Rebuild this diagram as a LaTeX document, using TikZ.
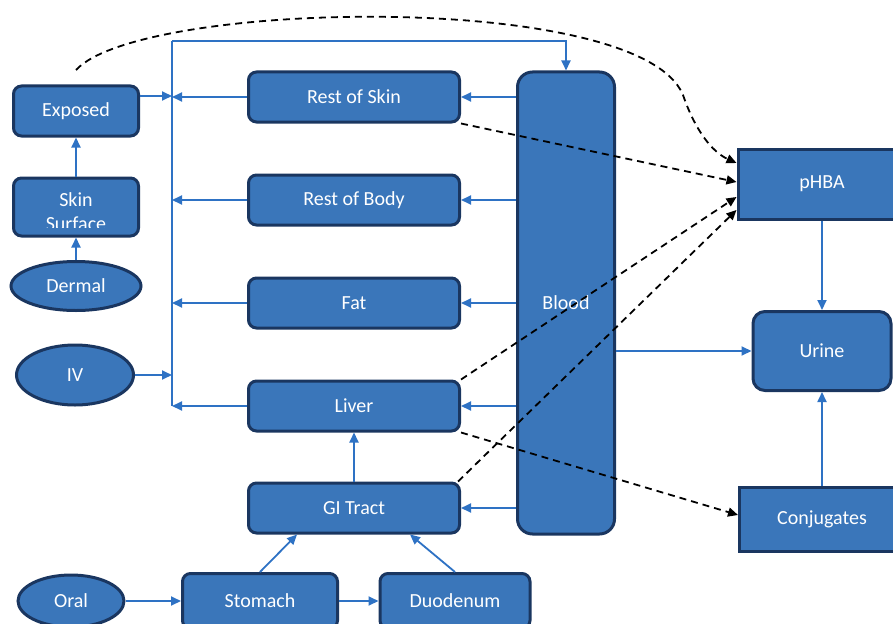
\documentclass[tikz,border=0pt]{standalone}
\usepackage{fontspec}
\setmainfont{Carlito}
\usetikzlibrary{shapes.geometric,arrows.meta,calc}

\definecolor{boxfill}{RGB}{58,118,186}
\definecolor{boxedge}{RGB}{26,54,96}
\definecolor{flow}{RGB}{46,114,196}

\begin{document}
\begin{tikzpicture}[x=1pt,y=-1pt,
    tile/.style={draw=boxedge, line width=3pt, fill=boxfill, text=white,
      font=\fontsize{20}{24}\selectfont},
    organ/.style={tile, rounded corners=8pt, minimum width=211, minimum height=50},
    route/.style={tile, ellipse, inner sep=0pt},
    pool/.style={tile, rounded corners=0pt},
    flowarr/.style={flow, line width=1.8pt, -{Triangle[length=10pt,width=9pt]}},
    flowline/.style={flow, line width=1.8pt},
    dasharr/.style={black, line width=1.8pt, dash pattern=on 7pt off 5pt,
      -{Triangle[length=10pt,width=9pt]}}]
    \useasboundingbox (0,0) rectangle (893,623);
    \clip (0,0) rectangle (893,623);

    % Dosing routes
    \node[route, minimum width=130, minimum height=49] (dermal) at (76,286) {Dermal};
    \node[route, minimum width=117, minimum height=60] (iv) at (75,375) {IV};
    \node[route, minimum width=106, minimum height=52] (oral) at (71,601) {Oral};
    \node[organ, minimum width=125, minimum height=50] (exposed) at (76,111) {Exposed};
    \node[organ, minimum width=125, minimum height=58] (skin) at (76,207) {};
    \begin{scope}
        \clip (14,180) rectangle (138,227); % Text tallat
        \node[text=white, align=center, font=\fontsize{20}{24}\selectfont] (skintext) at (76,212) {Skin\\Surface};
    \end{scope}

    % Compartiments
    \node[organ] (rskin) at (354,97) {Rest of Skin};
    \node[organ] (rbody) at (354,200) {Rest of Body};
    \node[organ] (fat) at (354,303) {Fat};
    \node[organ] (liver) at (354,406) {Liver};
    \node[organ] (gi) at (354,508) {GI Tract};
    \node[organ, minimum width=155, minimum height=55] (stomach) at (260,601) {Stomach};
    \node[organ, minimum width=150, minimum height=55] (duod) at (455,601) {Duodenum};
    \node[organ, rounded corners=15pt, minimum width=97, minimum height=462] (blood) at (566,303) {Blood};

    % Excreta
    \node[pool, minimum width=168, minimum height=70] (phba) at (822,184) {pHBA};
    \node[organ, rounded corners=12pt, minimum width=138, minimum height=79] (urine) at (822,351) {Urine};
    \node[pool, minimum width=165, minimum height=64] (conj) at (822,519) {Conjugates};

    % Retorn venos
    \coordinate (bustop) at (172,41);
    \coordinate (busbot) at (172,406);
    \draw[flowline] (bustop) -- (busbot);
    \draw[flowarr] (bustop) -| (blood.north);
    \foreach \n in {rskin,rbody,fat,liver} {
        \draw[flowarr] (\n.west) -- (\n.west -| bustop);
        \draw[flowarr] (blood.west |- \n.east) -- (\n.east);
    }
    \draw[flowarr] (blood.west |- gi.east) -- (gi.east);
    \coordinate (expout) at ($(exposed.east)+(0,-15)$);
    \draw[flowarr] (expout) -- (expout -| bustop);
    \draw[flowarr] (iv.east) -- (iv.east -| bustop);
    \draw[flowarr] (dermal.north) -- (skin.south);
    \draw[flowarr] (skin.north) -- (exposed.south);
    \draw[flowarr] (gi.north) -- (liver.south);
    \draw[flowarr] (oral.east) -- (stomach.west);
    \draw[flowarr] (stomach.east) -- (duod.west);
    \draw[flowarr] (stomach.north) -- ($(gi.south)+(-57,0)$);
    \draw[flowarr] (duod.north) -- ($(gi.south)+(56,0)$);
    \draw[flowarr] (blood.east |- urine.west) -- (urine.west);
    \draw[flowarr] (phba.south) -- (urine.north);
    \draw[flowarr] (conj.north) -- (urine.south);

    % Metabolisme
    \coordinate (dstart) at (76,70);
    \draw[dasharr] (dstart) .. controls (140,0) and (640,-10) .. (683,95)
                   .. controls (695,130) and (712,152) .. ($(phba.west)+(0,-21)$);
    \draw[dasharr] (rskin.south east) -- ($(phba.west)+(0,-2)$);
    \draw[dasharr] (liver.north east) -- ($(phba.west)+(0,13)$);
    \draw[dasharr] ($(gi.north east)+(-3,0)$) -- ($(phba.west)+(0,26)$);
    \draw[dasharr] (liver.south east) -- ($(conj.west)+(0,-4)$);
\end{tikzpicture}
\end{document}
